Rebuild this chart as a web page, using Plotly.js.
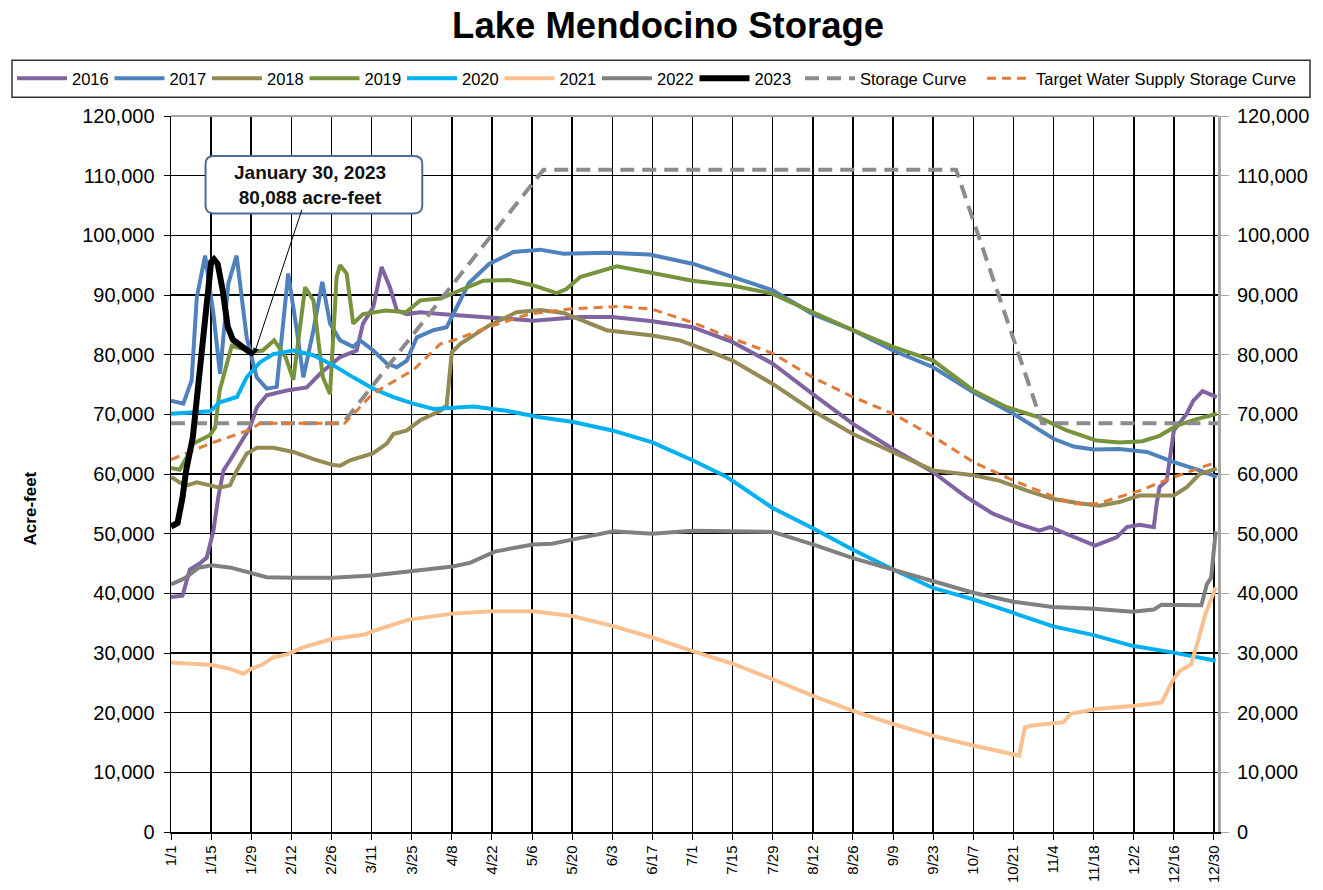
<!DOCTYPE html>
<html><head><meta charset="utf-8">
<script src="https://cdn.plot.ly/plotly-3.0.1.min.js"></script>
<style>html,body{margin:0;padding:0;background:#fff}</style>
</head><body><div id="chart" style="width:1323px;height:890px"></div>
<script>
// X axis: day of year (leap-year calendar) and tick labels
const tickDays = [0,14,28,42,56,70,84,98,112,126,140,154,168,182,196,210,224,238,252,266,280,294,308,322,336,350,364];
const tickLabels = ['1/1','1/15','1/29','2/12','2/26','3/11','3/25','4/8','4/22','5/6','5/20','6/3','6/17','7/1','7/15','7/29','8/12','8/26','9/9','9/23','10/7','10/21','11/4','11/18','12/2','12/16','12/30'];
const yTicks = [0,10000,20000,30000,40000,50000,60000,70000,80000,90000,100000,110000,120000];

const days2016 = [0,4,6.6,10,12.5,14.8,16.5,18.3,20.6,24,27.6,30,33.4,40.4,47.4,52,59,64.8,67,70.6,73.5,76.4,78.8,82.3,87,94,111,126.5,142.8,154,168,182,196,210,224,238,252,266,277.7,287,296,303,306.8,315,322.5,330,333.6,338,343,344,345,347.5,348.7,350,354.5,356.8,360,365];
const af2016   = [39400,39600,44000,45000,46000,50500,56100,60600,62300,65100,67800,71200,73200,74000,74500,76800,79600,80700,85200,88000,94700,91300,87400,86800,87100,86800,86300,85700,86300,86300,85600,84600,82100,78500,73400,68400,64200,60300,56100,53300,51600,50500,51100,49400,48000,49400,51100,51500,51100,55000,57800,58900,62800,67300,70100,72300,73900,72900];

const days2017 = [0,4.3,7.2,9,11.9,14.8,17.1,20,22.9,26.4,29.9,33.4,36.9,40.9,43.9,46.2,49.7,52.8,55.5,59,63.6,66,70.6,75.3,78.8,82.3,85.8,91.6,96.2,101,104,111,119.5,128.8,137,152,167,182.3,196.3,210,224,238,252,266,280,294,308,315,322,331,340.6,350,359,365];
const af2017   = [72300,71800,75700,89600,96600,86900,76800,91900,96600,82900,76200,74300,74600,93600,84100,76200,84100,92200,85200,82400,81300,82400,80700,78500,77900,79000,82900,84100,84600,89000,92000,95200,97200,97600,96900,97100,96800,95200,93000,90800,86800,84100,80700,77900,73700,70100,65900,64600,64100,64200,63700,62000,60600,59500];

const days2018 = [0,3,5.5,9,13.6,17,20.6,23,26.4,30,35.7,42.7,49.7,56.7,59,62.5,70.6,75.3,77.6,82.3,87,94,96.2,98,101,103,111,120.6,128.8,137,144,152,168,177.6,187,196,210,224,238,252,266,280,289,298.7,308,317,324,331,338,350,354.5,359,365];
const af2018   = [59500,58600,58100,58600,58100,57700,58100,60600,63400,64400,64400,63700,62500,61500,61400,62300,63500,65100,66700,67300,69000,70600,71500,80400,81800,82400,84900,87100,87500,87000,85700,84100,83200,82400,80700,79000,75100,70600,66700,63700,60600,59800,58900,57200,55800,55100,54700,55300,56400,56400,57800,60000,60900];

const days2019 = [0,3,5.5,7.8,13.6,15.4,17,19.4,21.2,25,29,32,36,40,42.7,46.8,49.7,53,55.5,57.8,59,61.3,63.6,67,75,82,87,94,101,109,118,126.5,134.6,138,142.8,155.6,168,182,196,210,224,238,252,266,280,291.7,303,312.6,323,331,339,345,351,358,365];
const af2019   = [61000,60700,62800,65100,66500,67800,74000,78500,81500,81000,80500,80700,82400,79600,75800,91300,89100,76200,73400,93000,95000,93600,85200,86800,87400,87100,89100,89400,90800,92400,92500,91600,90300,91000,93000,94800,93700,92400,91600,90200,87100,84100,81300,79000,74000,71200,69500,67300,65600,65300,65500,66400,68100,69200,70100];

const days2020 = [0,7.8,13.6,17,23,26.4,31,35.7,42.7,49.7,56.7,63.6,70.6,77.6,84.6,91.6,98.5,105.5,117,128.8,140.4,154,168,182,194,210,224,238,252,266,280,294,307.6,322,335.5,349.5,364.6];
const af2020   = [70100,70400,70500,72000,72900,76200,78700,80100,80700,79900,78200,76200,74300,72900,71800,70900,71100,71300,70600,69500,68700,67300,65300,62300,59500,54300,50900,47300,44000,40900,39000,36700,34500,33000,31200,30100,28700];

const days2021 = [0,8.5,14.3,20.9,25.3,27.8,32,35.8,40.8,45.8,55.8,67.6,70.7,83,98.3,112,126.3,140,154.3,168,182,196,210,224,238,252,266,280,293.6,296,298,300,311.4,314,322.8,335.5,345.7,349.5,352,356,358.4,361,364.6];
const af2021   = [28400,28200,28000,27300,26500,27300,28100,29300,29800,30900,32300,33100,33700,35600,36600,37000,37000,36200,34500,32600,30300,28200,25600,22800,20300,18100,16100,14500,13100,12800,17500,17800,18400,19800,20600,21100,21700,25300,27000,28100,32000,36500,41000];

const days2022 = [0,4.7,9.7,14.3,20.9,25.9,33.4,42.3,56,70.3,84,98.3,104.3,113,126.3,133,140,154.3,168,182,210,224,238,252,266,280,294,307.6,322,335.5,343,345.7,359.6,361.5,363,364.6];
const af2022   = [41500,42500,44300,44700,44300,43600,42700,42600,42600,43000,43800,44500,45100,47000,48200,48300,49000,50400,50000,50500,50300,48200,45900,44000,42000,40100,38600,37700,37400,36900,37300,38100,38000,41500,42600,50400];

const days2023 = [0,2.3,4,5.25,7.6,9.3,11,12.8,14,15,16.3,18,19.8,21.6,23.9,27,29];
const af2023   = [51200,51800,56000,60500,66100,74000,82500,89800,95500,96000,95200,90900,84700,82500,81600,80600,80088];

const daysStorage = [0,60,130,274,304,365.4];
const afStorage   = [68500,68500,111000,111000,68500,68500];

const daysTarget = [0,13.6,27.6,31,60.6,70.5,84.5,94,98.5,112.5,125,140,156.7,168,182,196,210,224,238,252,266,280,294,308,315,323,338,350,365];
const afTarget   = [62400,65100,67400,68500,68500,73500,77400,81800,82400,84900,86800,87700,88100,87600,85400,82700,80200,76200,72900,70100,66300,62000,58900,56200,55000,55000,57200,59500,62000];

const calloutDay = 29, calloutValue = 80088;
const calloutText = 'January 30, 2023<br>80,088 acre-feet';
const yTitleText = 'Acre-feet';

const FONT = 'Liberation Sans, Arial, sans-serif';

function series(name, x, y, color, width, dash, yaxis, legend) {
  return {type:'scatter', mode:'lines', name:name, x:x, y:y, yaxis:yaxis||'y', legend:legend||'legend',
    line:{color:color, width:width, dash:dash||'solid', shape:'linear'}, hoverinfo:'skip'};
}

const data = [
  series('2016', days2016, af2016, '#8064A2', 4),
  series('2017', days2017, af2017, '#4F81BD', 4),
  series('2018', days2018, af2018, '#948A54', 4),
  series('2019', days2019, af2019, '#77933C', 4),
  series('2020', days2020, af2020, '#00B0F0', 4),
  series('2021', days2021, af2021, '#FAC090', 4),
  series('2022', days2022, af2022, '#808080', 4),
  series('2023', days2023, af2023, '#000000', 6, 'solid', 'y2'),
  series('Storage Curve', daysStorage, afStorage, '#8C8C8C', 4, '14px,8px', 'y', 'legend2'),
  series('Target Water Supply Storage Curve', daysTarget, afTarget, '#E07B39', 3, '9px,6px', 'y', 'legend3')
];

// plot area in pixels: x 171..1218, y 115.7..831.5
const PX0 = 171, PW = 1047, PY1 = 831.5, PH = 715.8;
const px2paperX = p => (p - PX0) / PW;
const px2paperY = p => (PY1 - p) / PH;

const legendCommon = {orientation:'h', xref:'container', yref:'container', xanchor:'left', yanchor:'middle',
  y:1-78.5/890, bgcolor:'rgba(0,0,0,0)', borderwidth:0, font:{family:FONT, size:16.5, color:'#000'}};

const layout = {
  width:1323, height:890,
  paper_bgcolor:'#fff', plot_bgcolor:'#fff',
  margin:{l:171, r:105, t:116, b:58},
  font:{family:FONT, color:'#000'},
  title:{text:'Lake Mendocino Storage', font:{family:FONT, size:36.5, weight:'bold', color:'#000'},
         xref:'container', x:0.505, xanchor:'center', yref:'container', y:0.972, yanchor:'middle'},
  showlegend:true,
  legend:Object.assign({}, legendCommon, {x:12/1323, itemwidth:50, entrywidth:32.5, entrywidthmode:'pixels'}),
  legend2:Object.assign({}, legendCommon, {x:800/1323, itemwidth:50}),
  legend3:Object.assign({}, legendCommon, {x:982/1323, itemwidth:44}),
  xaxis:{range:[0,365.4], tickmode:'array', tickvals:tickDays, ticktext:tickLabels, tickangle:-90,
         showgrid:true, gridcolor:'#000', gridwidth:1.5, zeroline:false,
         showline:true, linecolor:'#000', linewidth:1.5, ticks:'outside', ticklen:6, tickcolor:'#000',
         tickfont:{family:FONT, size:15, color:'#000'}, fixedrange:true},
  yaxis:{range:[0,120000], tickmode:'array', tickvals:yTicks, tickformat:',d',
         showgrid:true, gridcolor:'#000', gridwidth:1.5, zeroline:false,
         showline:true, linecolor:'#000', linewidth:1.5, ticks:'outside', ticklen:6, tickcolor:'#000',
         ticklabelstandoff:5,
         tickfont:{family:FONT, size:20, color:'#000'}},
  yaxis2:{range:[0,120000], overlaying:'y', side:'right', tickmode:'array', tickvals:yTicks, tickformat:',d',
          showgrid:false, zeroline:false, showline:true, linecolor:'#A6A6A6', linewidth:3,
          ticks:'outside', ticklen:8, tickcolor:'#A6A6A6', ticklabelstandoff:4,
          tickfont:{family:FONT, size:20, color:'#000'}},
  shapes:[
    {type:'line', xref:'paper', yref:'paper', x0:0, x1:1, y0:1, y1:1, line:{color:'#A6A6A6', width:2}, layer:'above'},
    {type:'rect', xref:'paper', yref:'paper', layer:'above',
     x0:px2paperX(12), x1:px2paperX(1310), y0:px2paperY(97), y1:px2paperY(60),
     fillcolor:'rgba(0,0,0,0)', line:{color:'#333', width:1.5}},
    {type:'path', xref:'paper', yref:'paper', layer:'above',
     path:'M 0.041,0.944 L 0.232,0.944 Q 0.240,0.944 0.240,0.933 L 0.240,0.875 Q 0.240,0.864 0.232,0.864 L 0.041,0.864 Q 0.033,0.864 0.033,0.875 L 0.033,0.933 Q 0.033,0.944 0.041,0.944 Z',
     fillcolor:'#fff', line:{color:'#4F6A96', width:2}}
  ],
  annotations:[
    {x:calloutDay, y:calloutValue, xref:'x', yref:'y', axref:'x', ayref:'y', ax:48.5, ay:108400,
     text:calloutText, showarrow:true, arrowhead:2, arrowsize:1.2, arrowwidth:1, arrowcolor:'#000',
     font:{family:FONT, size:19, weight:'bold', color:'#111'}, align:'center', bgcolor:'rgba(0,0,0,0)'},
    {xref:'paper', yref:'paper', x:px2paperX(30), y:px2paperY(508), xanchor:'center', yanchor:'middle',
     text:yTitleText, textangle:-90, showarrow:false,
     font:{family:FONT, size:17, weight:'bold', color:'#000'}}
  ]
};

Plotly.newPlot('chart', data, layout, {staticPlot:true, displayModeBar:false});
</script></body></html>
